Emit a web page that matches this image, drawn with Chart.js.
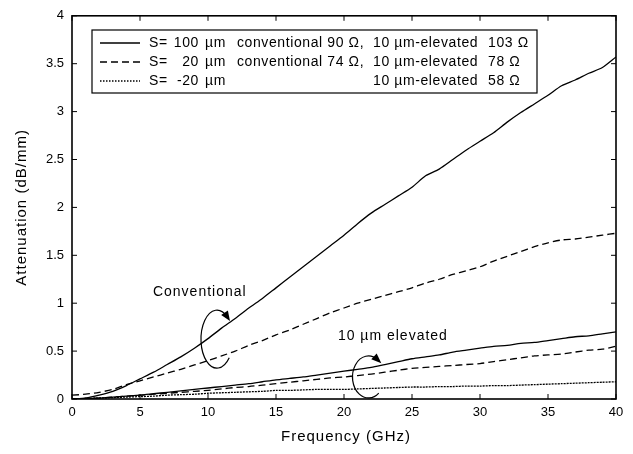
<!DOCTYPE html>
<html>
<head>
<meta charset="utf-8">
<script src="https://cdn.jsdelivr.net/npm/chart.js@4"></script>
<style>
  html, body { margin: 0; padding: 0; background: #fff; }
  #chart { display: block; }
</style>
</head>
<body>
<canvas id="chart" width="633" height="454"></canvas>
<script>
// Attenuation vs frequency, conventional vs 10 um-elevated lines

const freqGHz = [0, 1, 2, 3, 4, 5, 6, 7, 8, 9, 10, 11, 12, 13, 14, 15, 16, 17, 18, 19, 20,
    21, 22, 23, 24, 25, 26, 27, 28, 29, 30, 31, 32, 33, 34, 35, 36, 37, 38, 39, 40];

// conventional, S = 100 um (solid)
const convS100 = [0, 0.01, 0.04, 0.08, 0.14, 0.21, 0.28, 0.36, 0.44, 0.53, 0.63,
    0.74, 0.84, 0.95, 1.05, 1.16, 1.27, 1.38, 1.49, 1.60, 1.71,
    1.83, 1.94, 2.03, 2.12, 2.21, 2.33, 2.40, 2.50, 2.60, 2.69,
    2.78, 2.89, 2.99, 3.08, 3.17, 3.27, 3.33, 3.40, 3.46, 3.57];

// conventional, S = 20 um (dashed)
const convS20 = [0.04, 0.05, 0.07, 0.10, 0.15, 0.19, 0.23, 0.27, 0.31, 0.355, 0.40,
    0.45, 0.50, 0.56, 0.61, 0.67, 0.72, 0.78, 0.84, 0.90, 0.95,
    1.00, 1.04, 1.08, 1.12, 1.16, 1.21, 1.25, 1.30, 1.34, 1.38,
    1.44, 1.49, 1.54, 1.59, 1.63, 1.66, 1.67, 1.69, 1.71, 1.73];

// 10 um elevated, S = 100 um (solid)
const elevS100 = [0, 0.005, 0.01, 0.02, 0.03, 0.04, 0.055, 0.07, 0.085, 0.10, 0.115,
    0.13, 0.145, 0.16, 0.18, 0.20, 0.215, 0.23, 0.25, 0.27, 0.29,
    0.31, 0.33, 0.36, 0.39, 0.42, 0.44, 0.46, 0.49, 0.51, 0.53,
    0.55, 0.56, 0.58, 0.59, 0.61, 0.63, 0.65, 0.66, 0.68, 0.70];

// 10 um elevated, S = 20 um (dashed)
const elevS20 = [0, 0.005, 0.01, 0.02, 0.03, 0.04, 0.05, 0.06, 0.07, 0.08, 0.09,
    0.105, 0.12, 0.13, 0.145, 0.16, 0.175, 0.19, 0.205, 0.22, 0.23,
    0.245, 0.26, 0.28, 0.30, 0.32, 0.33, 0.34, 0.35, 0.36, 0.37,
    0.39, 0.41, 0.43, 0.45, 0.46, 0.47, 0.49, 0.51, 0.52, 0.55];

// 10 um elevated, S = -20 um (dotted)
const elevSm20 = [0, 0.005, 0.01, 0.015, 0.02, 0.025, 0.03, 0.04, 0.045, 0.05, 0.06,
    0.065, 0.07, 0.075, 0.08, 0.09, 0.09, 0.095, 0.10, 0.10, 0.10,
    0.105, 0.11, 0.115, 0.12, 0.125, 0.125, 0.13, 0.13, 0.135, 0.135,
    0.14, 0.14, 0.145, 0.15, 0.155, 0.16, 0.165, 0.17, 0.175, 0.18];

const xTicks = [0, 5, 10, 15, 20, 25, 30, 35, 40];
const yTicks = [0, 0.5, 1, 1.5, 2, 2.5, 3, 3.5, 4];

// legend rows: spacing, conventional label, elevated label
const legendS    = ['100', '20', '-20'];
const legendConv = ['conventional 90 \u03A9,', 'conventional 74 \u03A9,', ''];
const legendElev = ['103 \u03A9', '78 \u03A9', '58 \u03A9'];

const FONT = '"Liberation Sans", Arial, sans-serif';
const DASH = [7, 4];
const DOT  = [2, 1];          // fine dots, reads almost solid on the plot
const DOT_KEY = [1.5, 1.5];   // legend sample

const pts = arr => freqGHz.map((f, i) => ({ x: f, y: arr[i] }));

function lineDs(label, arr, dash) {
    return {
        label,
        data: pts(arr),
        borderColor: '#000',
        borderWidth: 1.3,
        borderDash: dash,
        pointRadius: 0,
        fill: false,
        tension: 0.25
    };
}

// â”€â”€â”€ Overlay: frame, inward ticks, titles, legend box, notes â”€â”€â”€â”€â”€â”€â”€â”€â”€â”€â”€

function seg(ctx, x1, y1, x2, y2) {
    ctx.beginPath();
    ctx.moveTo(x1, y1);
    ctx.lineTo(x2, y2);
    ctx.stroke();
}

function curlArrow(ctx, cx, cy, rx, ry, a0, a1) {
    const s = a0 * Math.PI / 180, e = a1 * Math.PI / 180;
    ctx.beginPath();
    ctx.ellipse(cx, cy, rx, ry, 0, s, e, true);
    ctx.stroke();
    // head at start, pointing clockwise
    const px = cx + rx * Math.cos(s), py = cy + ry * Math.sin(s);
    let tx = -rx * Math.sin(s), ty = ry * Math.cos(s);
    const l = Math.hypot(tx, ty);
    tx /= l; ty /= l;
    const nx = -ty, ny = tx;
    ctx.beginPath();
    ctx.moveTo(px + tx * 5, py + ty * 5);
    ctx.lineTo(px - tx * 5 + nx * 4, py - ty * 5 + ny * 4);
    ctx.lineTo(px - tx * 5 - nx * 4, py - ty * 5 - ny * 4);
    ctx.closePath();
    ctx.fill();
}

const overlay = {
    id: 'overlay',
    afterDraw(chart) {
        const { ctx, chartArea: a, scales: { x, y } } = chart;
        ctx.save();
        ctx.strokeStyle = '#000';
        ctx.fillStyle = '#000';

        // frame
        ctx.lineWidth = 1.6;
        ctx.strokeRect(a.left, a.top, a.right - a.left, a.bottom - a.top);

        // inward ticks on all four sides
        ctx.lineWidth = 1;
        xTicks.forEach(v => {
            const p = x.getPixelForValue(v);
            seg(ctx, p, a.bottom, p, a.bottom - 5);
            seg(ctx, p, a.top, p, a.top + 5);
        });
        yTicks.forEach(v => {
            const p = y.getPixelForValue(v);
            seg(ctx, a.left, p, a.left + 5, p);
            seg(ctx, a.right, p, a.right - 5, p);
        });

        // axis titles
        ctx.font = '15px ' + FONT;
        ctx.letterSpacing = '1px';
        ctx.textAlign = 'center';
        ctx.textBaseline = 'middle';
        ctx.fillText('Frequency (GHz)', (a.left + a.right) / 2 + 2, 437);
        ctx.save();
        ctx.translate(22, (a.top + a.bottom) / 2);
        ctx.rotate(-Math.PI / 2);
        ctx.fillText('Attenuation (dB/mm)', 0, 0);
        ctx.restore();

        // legend box
        const bx = 92, by = 30, bw = 445, bh = 63;
        ctx.fillStyle = '#fff';
        ctx.fillRect(bx, by, bw, bh);
        ctx.fillStyle = '#000';
        ctx.lineWidth = 1.2;
        ctx.strokeRect(bx, by, bw, bh);

        ctx.font = '14px ' + FONT;
        ctx.letterSpacing = '0.6px';
        const dashes = [[], DASH, DOT_KEY];
        legendS.forEach((s, i) => {
            const ry = 43 + 19 * i;
            ctx.lineWidth = 1.3;
            ctx.setLineDash(dashes[i]);
            seg(ctx, 100, ry, 140, ry);
            ctx.setLineDash([]);
            ctx.textAlign = 'left';
            ctx.fillText('S=', 149, ry);
            ctx.textAlign = 'right';
            ctx.fillText(s, 199, ry);
            ctx.textAlign = 'left';
            ctx.fillText('\u00B5m', 205, ry);
            if (legendConv[i]) ctx.fillText(legendConv[i], 237, ry);
            ctx.fillText('10 \u00B5m-elevated', 373, ry);
            ctx.fillText(legendElev[i], 488, ry);
        });

        // notes on the curves
        ctx.letterSpacing = '1px';
        ctx.textAlign = 'left';
        ctx.fillText('Conventional', x.getPixelForValue(5.95), y.getPixelForValue(1.12));
        ctx.fillText('10 \u00B5m elevated', x.getPixelForValue(19.55), y.getPixelForValue(0.66));

        ctx.lineWidth = 1.2;
        curlArrow(ctx, x.getPixelForValue(10.66), y.getPixelForValue(0.625), 16, 29, -50, 40);
        curlArrow(ctx, x.getPixelForValue(21.8), y.getPixelForValue(0.23), 16, 21, -55, 50);

        ctx.restore();
    }
};

new Chart(document.getElementById('chart'), {
    type: 'line',
    data: {
        datasets: [
            lineDs('S=100 um conventional', convS100, []),
            lineDs('S=20 um conventional', convS20, DASH),
            lineDs('S=100 um elevated', elevS100, []),
            lineDs('S=20 um elevated', elevS20, DASH),
            lineDs('S=-20 um elevated', elevSm20, DOT)
        ]
    },
    options: {
        responsive: false,
        animation: false,
        devicePixelRatio: 1,
        layout: { padding: { top: 14, right: 17, left: 0, bottom: 0 } },
        plugins: {
            legend: { display: false },
            tooltip: { enabled: false }
        },
        scales: {
            x: {
                type: 'linear',
                min: 0,
                max: 40,
                afterFit: s => { s.height = 55; },
                afterBuildTicks: s => { s.ticks = xTicks.map(v => ({ value: v })); },
                grid: { display: false, drawTicks: false },
                border: { display: false },
                ticks: { color: '#000', padding: 6, font: { family: FONT, size: 13 } }
            },
            y: {
                type: 'linear',
                min: 0,
                max: 4,
                afterFit: s => { s.width = 72; },
                afterBuildTicks: s => { s.ticks = yTicks.map(v => ({ value: v })); },
                grid: { display: false, drawTicks: false },
                border: { display: false },
                ticks: {
                    color: '#000',
                    padding: 8,
                    font: { family: FONT, size: 13 },
                    callback: v => String(v)
                }
            }
        }
    },
    plugins: [overlay]
});
</script>
</body>
</html>
